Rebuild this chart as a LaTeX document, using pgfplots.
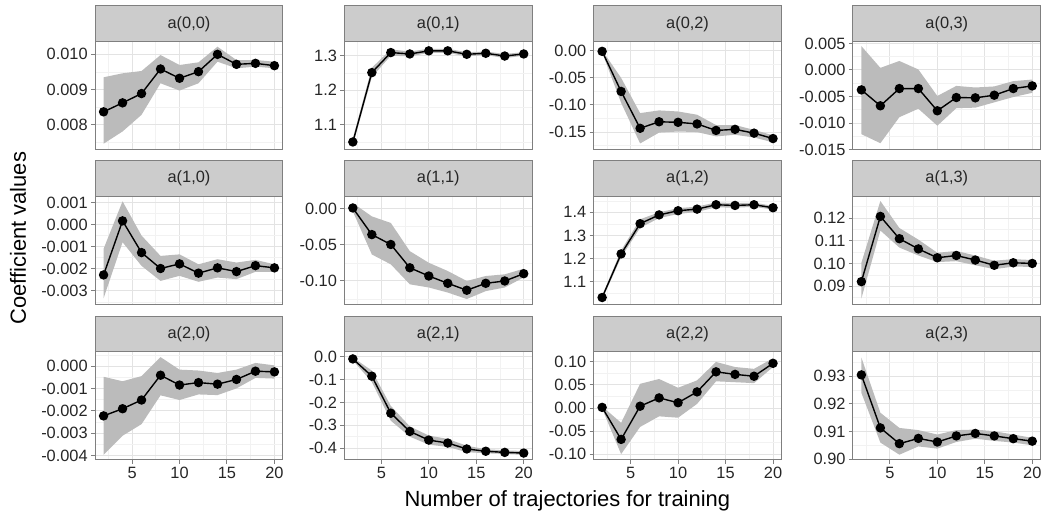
\documentclass[border=0pt]{standalone}
\usepackage{pgfplots}
\pgfplotsset{compat=1.18}
\usepgfplotslibrary{fillbetween}
\usepackage{pgfplotstable}
\usepackage{fontspec}
\setmainfont{Liberation Sans}
\definecolor{stripfill}{HTML}{CCCCCC}
\definecolor{border}{HTML}{7F7F7F}
\definecolor{gmaj}{HTML}{E3E3E3}
\definecolor{gmin}{HTML}{F2F2F2}
\definecolor{ribbon}{HTML}{BBBBBB}

\pgfplotstableread{
x y lo hi
2 0.008368 0.007462 0.009349
4 0.008623 0.00781 0.009462
6 0.008887 0.008283 0.009528
8 0.009585 0.009179 0.009981
10 0.009321 0.008972 0.009698
12 0.009509 0.009179 0.009774
14 0.010000 0.009792 0.010217
16 0.009717 0.009604 0.00984
18 0.009745 0.009651 0.00984
20 0.009679 0.009604 0.009792
}\tAOO
\pgfplotstableread{
x y lo hi
2 1.050 1.040 1.060
4 1.251 1.238 1.265
6 1.309 1.300 1.318
8 1.305 1.298 1.312
10 1.314 1.308 1.320
12 1.314 1.308 1.320
14 1.304 1.298 1.310
16 1.307 1.302 1.312
18 1.299 1.293 1.305
20 1.305 1.300 1.310
}\tAOI
\pgfplotstableread{
x y lo hi
2 -0.001 -0.003 0.001
4 -0.075 -0.096 -0.050
6 -0.143 -0.171 -0.115
8 -0.131 -0.151 -0.110
10 -0.132 -0.149 -0.112
12 -0.135 -0.150 -0.118
14 -0.147 -0.158 -0.137
16 -0.145 -0.155 -0.137
18 -0.152 -0.160 -0.146
20 -0.162 -0.169 -0.156
}\tAOII
\pgfplotstableread{
x y lo hi
2 -0.00375 -0.0121 0.0045
4 -0.00675 -0.0138 0.0004
6 -0.0035 -0.0089 0.0017
8 -0.0035 -0.0073 0.0001
10 -0.00769 -0.0105 -0.0049
12 -0.00519 -0.0072 -0.0030
14 -0.00525 -0.0071 -0.0033
16 -0.00475 -0.0061 -0.0031
18 -0.0035 -0.0051 -0.0021
20 -0.0030 -0.0043 -0.0018
}\tAOIII
\pgfplotstableread{
x y lo hi
2 -0.00228 -0.00334 -0.0011
4 0.000165 -0.0008 0.00105
6 -0.00127 -0.00187 -0.0005
8 -0.00199 -0.00255 -0.00142
10 -0.00178 -0.00232 -0.00135
12 -0.0022 -0.00259 -0.0018
14 -0.00196 -0.0024 -0.00157
16 -0.00213 -0.00247 -0.00172
18 -0.00186 -0.00214 -0.00160
20 -0.00196 -0.00214 -0.0018
}\tAIO
\pgfplotstableread{
x y lo hi
2 0.001 -0.0037 0.0078
4 -0.0358 -0.0633 -0.0106
6 -0.0495 -0.077 -0.0197
8 -0.0817 -0.1046 -0.0587
10 -0.0931 -0.109 -0.0748
12 -0.1032 -0.116 -0.0862
14 -0.1128 -0.125 -0.100
16 -0.1032 -0.114 -0.0931
18 -0.100 -0.109 -0.0908
20 -0.0899 -0.095 -0.083
}\tAII
\pgfplotstableread{
x y lo hi
2 1.031 1.022 1.040
4 1.220 1.205 1.235
6 1.351 1.333 1.370
8 1.389 1.375 1.400
10 1.407 1.393 1.418
12 1.414 1.402 1.425
14 1.433 1.422 1.443
16 1.430 1.420 1.440
18 1.433 1.424 1.442
20 1.420 1.412 1.428
}\tAIIb
\pgfplotstableread{
x y lo hi
2 0.0920 0.0846 0.1003
4 0.1207 0.1145 0.1275
6 0.1109 0.1070 0.1156
8 0.1064 0.1035 0.1105
10 0.1025 0.1006 0.1047
12 0.1035 0.1010 0.1055
14 0.1015 0.0992 0.1035
16 0.0992 0.0975 0.1012
18 0.1003 0.0986 0.1019
20 0.1000 0.0985 0.1015
}\tAIIII
\pgfplotstableread{
x y lo hi
2 -0.00222 -0.00396 -0.00047
4 -0.0019 -0.00311 -0.00067
6 -0.00151 -0.00259 -0.00044
8 -0.0004 -0.0013 0.00041
10 -0.00084 -0.00151 -0.00015
12 -0.00073 -0.00126 -0.00019
14 -0.0008 -0.00129 -0.0003
16 -0.00059 -0.00099 -0.00015
18 -0.00022 -0.00052 0.00015
20 -0.00025 -0.00055 0.00004
}\tAIIO
\pgfplotstableread{
x y lo hi
2 -0.0087 -0.015 -0.002
4 -0.0844 -0.110 -0.060
6 -0.247 -0.280 -0.215
8 -0.327 -0.350 -0.305
10 -0.365 -0.385 -0.345
12 -0.378 -0.395 -0.360
14 -0.404 -0.418 -0.390
16 -0.414 -0.423 -0.405
18 -0.419 -0.426 -0.410
20 -0.422 -0.430 -0.413
}\tBI
\pgfplotstableread{
x y lo hi
2 0.0014 -0.0014 0.0036
4 -0.068 -0.100 -0.032
6 0.004 -0.041 0.0525
8 0.022 -0.018 0.063
10 0.0115 -0.021 0.044
12 0.035 0.009 0.060
14 0.0785 0.058 0.100
16 0.073 0.056 0.089
18 0.069 0.054 0.085
20 0.097 0.089 0.108
}\tBII
\pgfplotstableread{
x y lo hi
2 0.9305 0.924 0.9368
4 0.9113 0.906 0.9168
6 0.9056 0.9016 0.9113
8 0.9075 0.9046 0.9105
10 0.9062 0.9038 0.9089
12 0.9084 0.9062 0.9105
14 0.9093 0.9074 0.9107
16 0.9084 0.9066 0.9101
18 0.9074 0.9060 0.9089
20 0.9065 0.9050 0.9077
}\tBIII

\pgfplotsset{
  facet/.style={
    scale only axis, width=94.25pt, height=54pt, anchor=south west,
    xmin=1.1, xmax=20.9,
    xtick={5,10,15,20}, minor xtick={2.5,7.5,12.5,17.5},
    grid=both,
    major grid style={draw=gmaj, line width=0.5pt},
    minor grid style={draw=gmin, line width=0.3pt},
    axis line style={draw=border, line width=0.5pt},
    tick align=outside, tickpos=left,
    major tick length=2pt, minor tick length=0pt,
    major tick style={draw=border, line width=0.5pt},
    minor tick style={draw=none},
    scaled y ticks=false, scaled x ticks=false,
    yticklabel style={font=\fontsize{8.2}{9}\selectfont, text=black!85, inner xsep=1.5pt},
    xticklabel style={font=\fontsize{8.2}{9}\selectfont, text=black!85, inner ysep=1.5pt},
    xticklabels={},
    xtick style={draw=none},
    clip=false,
  },
  bottomrow/.style={xticklabels={5,10,15,20}, xtick style={draw=border, line width=0.5pt}},
  strip/.style={extra description/.append code={
     \draw[fill=stripfill, draw=border, line width=0.5pt] (0,1) rectangle (1,1.3333);
     \node[font=\fontsize{8.2}{9}\selectfont, text=black!85] at (0.5,1.1667) {#1};
  }},
}
\newcommand\facetplots[1]{%
  \addplot[name path=U, draw=none, forget plot] table[x=x,y=hi]{#1};
  \addplot[name path=L, draw=none, forget plot] table[x=x,y=lo]{#1};
  \addplot[fill=ribbon, draw=none] fill between[of=U and L];
  \addplot[black, line width=0.7pt, mark=*, mark size=2pt] table[x=x,y=y]{#1};
}

\begin{document}
\begin{tikzpicture}
% row 1
\begin{axis}[facet, at={(47.65pt,183pt)}, ymin=0.007296, ymax=0.010355,
  ytick={0.008,0.009,0.010}, yticklabels={0.008,0.009,0.010},
  minor ytick={0.0075,0.0085,0.0095}, strip={a(0,0)}]
\facetplots{\tAOO}
\end{axis}
\begin{axis}[facet, at={(172.65pt,183pt)}, ymin=1.028, ymax=1.340,
  ytick={1.1,1.2,1.3}, yticklabels={1.1,1.2,1.3},
  minor ytick={1.05,1.15,1.25}, strip={a(0,1)}]
\facetplots{\tAOI}
\end{axis}
\begin{axis}[facet, at={(297.65pt,183pt)}, ymin=-0.1823, ymax=0.0165,
  ytick={-0.15,-0.10,-0.05,0}, yticklabels={-0.15,-0.10,-0.05,0.00},
  minor ytick={-0.175,-0.125,-0.075,-0.025}, strip={a(0,2)}]
\facetplots{\tAOII}
\end{axis}
\begin{axis}[facet, at={(427.65pt,183pt)}, ymin=-0.0150, ymax=0.0053,
  ytick={-0.015,-0.010,-0.005,0,0.005}, yticklabels={-0.015,-0.010,-0.005,0.000,0.005},
  minor ytick={-0.0125,-0.0075,-0.0025,0.0025}, strip={a(0,3)}]
\facetplots{\tAOIII}
\end{axis}
% row 2
\begin{axis}[facet, at={(47.65pt,105.5pt)}, ymin=-0.0036, ymax=0.00127,
  ytick={-0.003,-0.002,-0.001,0,0.001}, yticklabels={-0.003,-0.002,-0.001,0.000,0.001},
  minor ytick={-0.0035,-0.0025,-0.0015,-0.0005,0.0005}, strip={a(1,0)}]
\facetplots{\tAIO}
\end{axis}
\begin{axis}[facet, at={(172.65pt,105.5pt)}, ymin=-0.132, ymax=0.017,
  ytick={-0.10,-0.05,0}, yticklabels={-0.10,-0.05,0.00},
  minor ytick={-0.125,-0.075,-0.025}, strip={a(1,1)}]
\facetplots{\tAII}
\end{axis}
\begin{axis}[facet, at={(297.65pt,105.5pt)}, ymin=1.0024, ymax=1.469,
  ytick={1.1,1.2,1.3,1.4}, yticklabels={1.1,1.2,1.3,1.4},
  minor ytick={1.05,1.15,1.25,1.35,1.45}, strip={a(1,2)}]
\facetplots{\tAIIb}
\end{axis}
\begin{axis}[facet, at={(427.65pt,105.5pt)}, ymin=0.0821, ymax=0.1295,
  ytick={0.09,0.10,0.11,0.12}, yticklabels={0.09,0.10,0.11,0.12},
  minor ytick={0.085,0.095,0.105,0.115,0.125}, strip={a(1,3)}]
\facetplots{\tAIIII}
\end{axis}
% row 3
\begin{axis}[facet, bottomrow, at={(47.65pt,27.5pt)}, ymin=-0.00418, ymax=0.00064,
  ytick={-0.004,-0.003,-0.002,-0.001,0}, yticklabels={-0.004,-0.003,-0.002,-0.001,0.000},
  minor ytick={-0.0035,-0.0025,-0.0015,-0.0005,0.0005}, strip={a(2,0)}]
\facetplots{\tAIIO}
\end{axis}
\begin{axis}[facet, bottomrow, at={(172.65pt,27.5pt)}, ymin=-0.451, ymax=0.0218,
  ytick={-0.4,-0.3,-0.2,-0.1,0}, yticklabels={-0.4,-0.3,-0.2,-0.1,0.0},
  minor ytick={-0.45,-0.35,-0.25,-0.15,-0.05}, strip={a(2,1)}]
\facetplots{\tBI}
\end{axis}
\begin{axis}[facet, bottomrow, at={(297.65pt,27.5pt)}, ymin=-0.112, ymax=0.1216,
  ytick={-0.10,-0.05,0,0.05,0.10}, yticklabels={-0.10,-0.05,0.00,0.05,0.10},
  minor ytick={-0.075,-0.025,0.025,0.075}, strip={a(2,2)}]
\facetplots{\tBII}
\end{axis}
\begin{axis}[facet, bottomrow, at={(427.65pt,27.5pt)}, ymin=0.8998, ymax=0.9388,
  ytick={0.90,0.91,0.92,0.93}, yticklabels={0.90,0.91,0.92,0.93},
  minor ytick={0.905,0.915,0.925,0.935}, strip={a(2,3)}]
\facetplots{\tBIII}
\end{axis}
\node[rotate=90, font=\fontsize{11}{13}\selectfont] at (9pt,138.5pt) {Coefficient values};
\node[font=\fontsize{11}{13}\selectfont] at (284.5pt,7pt) {Number of trajectories for training};
\path (0,0) rectangle (524pt,258pt);
\end{tikzpicture}
\end{document}
